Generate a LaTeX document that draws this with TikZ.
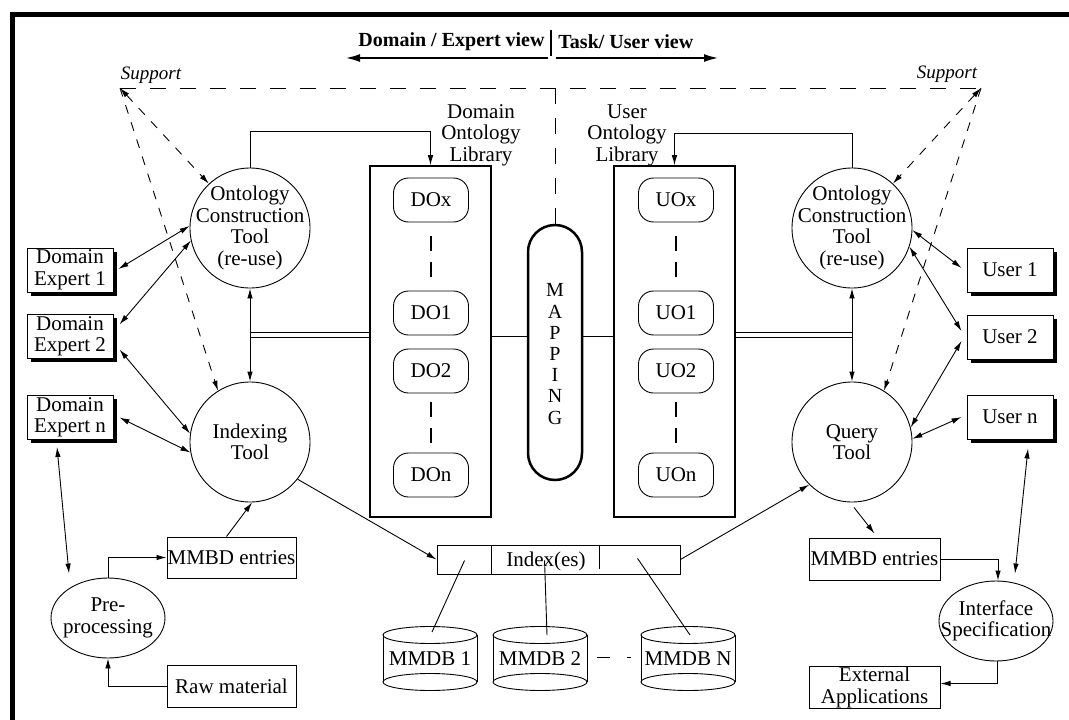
\documentclass[tikz,border=0pt]{standalone}
\usepackage{fontspec}
\setmainfont{Liberation Serif}
\usetikzlibrary{arrows.meta,calc,shapes.geometric}
\begin{document}
\begin{tikzpicture}[x=1pt,y=-1pt,
  >={Latex[length=10pt,width=5.5pt]},
  every node/.style={font=\fontsize{21}{21.5}\selectfont, inner sep=0pt, align=center},
  every path/.style={line width=0.9pt},
  box/.style={draw, fill=white, line width=1pt, minimum width=86pt, minimum height=44pt},
  shbox/.style={box, preaction={fill=black, transform canvas={xshift=3.5pt, yshift=-3.5pt}}},
  tool/.style={circle, draw, line width=0.9pt, minimum size=120pt},
  oval/.style={ellipse, draw, line width=0.9pt, minimum width=114pt, minimum height=80pt},
  onto/.style={draw, rounded corners=15pt, line width=0.9pt, minimum width=75pt, minimum height=44pt},
  lib/.style={draw, line width=1.6pt, minimum width=121pt, minimum height=351pt},
  dsh/.style={line width=0.9pt, dash pattern=on 9pt off 9pt},
  tdash/.style={line width=0.9pt, dash pattern=on 16pt off 14pt},
  odash/.style={line width=1.8pt, dash pattern=on 15pt off 11pt},
  harr/.style={line width=1.5pt, -{Latex[length=14pt,width=8pt]}}
]
\useasboundingbox (0,0) rectangle (1069,720);

% outer frame (top and left edges)
\draw[line width=5pt] (12.5,725) -- (12.5,14.5) -- (1075,14.5);

% headings
\node[font=\bfseries\fontsize{20}{22}\selectfont, anchor=east] (hdL) at (545,42) {Domain / Expert view};
\node[font=\bfseries\fontsize{20}{22}\selectfont, anchor=west] (hdR) at (558,42) {Task/ User view};
\coordinate (barT) at (551,30);
\coordinate (barB) at (551,56);
\draw[line width=1.8pt] (barT) -- (barB);
\coordinate (alS) at (548,58);
\coordinate (alE) at (346,58);
\coordinate (arS) at (556,58);
\coordinate (arE) at (718,58);
\draw[harr] (alS) -- (alE);
\draw[harr] (arS) -- (arE);

% support line
\coordinate (supL) at (120,88);
\coordinate (supR) at (981,88);
\node[font=\itshape\fontsize{19}{20}\selectfont] (supLt) at (151,75) {Support};
\node[font=\itshape\fontsize{19}{20}\selectfont] (supRt) at (947,74) {Support};
\draw[tdash] (supL) -- (supR);

% ontology libraries
\node[lib] (dlib) at (430.5,341.5) {};
\node[lib] (ulib) at (674.5,341.5) {};
\node (dlT) at (481,135) {Domain\\Ontology\\Library};
\node (ulT) at (627,135) {User\\Ontology\\Library};
\foreach \y/\s in {200/x,313/1,371/2,475/n}{
  \node[onto] (do\s) at (431,\y) {DO\s};
  \node[onto] (uo\s) at (676,\y) {UO\s};
}
\draw[odash, shorten <=14pt, shorten >=12pt] (dox) -- (do1);
\draw[odash, shorten <=9pt, shorten >=7pt] (do2) -- (don);
\draw[odash, shorten <=14pt, shorten >=12pt] (uox) -- (uo1);
\draw[odash, shorten <=9pt, shorten >=7pt] (uo2) -- (uon);

% mapping capsule
\node[draw, rounded corners=27pt, line width=2.5pt, minimum width=54pt, minimum height=255pt] (map) at (555,352.5) {};
\node[font=\fontsize{20}{21.2}\selectfont] (mapT) at (555,354) {M\\A\\P\\P\\I\\N\\G};
\coordinate (mapy) at (0,336.5);
\draw (dlib.east |- mapy) -- (map.west |- mapy);
\draw (map.east |- mapy) -- (ulib.west |- mapy);
\draw[tdash] (map.north) -- (map.north |- supL);

% tools
\node[tool, label={center:{Ontology\\Construction\\Tool\\(re-use)}}] (octL) at (250,228) {};
\node[tool, label={center:{Indexing\\Tool}}] (itL) at (250,442) {};
\node[tool, label={center:{Ontology\\Construction\\Tool\\(re-use)}}] (octR) at (852,228) {};
\node[tool, label={center:{Query\\Tool}}] (qt) at (852,442) {};
\node[oval, label={center:{Pre-\\processing}}] (pre) at (108,618) {};
\node[oval, label={center:{Interface\\Specification}}] (iface) at (996,621) {};

% experts and users
\node[shbox] (de1) at (70,270) {Domain\\Expert 1};
\node[shbox] (de2) at (70,336.5) {Domain\\Expert 2};
\node[shbox] (den) at (70,417.5) {Domain\\Expert n};
\node[shbox] (u1) at (1010,270) {User 1};
\node[shbox] (u2) at (1010,337) {User 2};
\node[shbox] (un) at (1010,417) {User n};

% entries and material
\node[box, minimum width=129pt, minimum height=41pt] (mmbdL) at (231.5,557.5) {MMBD entries};
\node[box, minimum width=129pt, minimum height=42pt] (raw) at (231.5,686) {Raw material};
\node[box, minimum width=131pt, minimum height=42pt] (mmbdR) at (874.5,559) {MMBD entries};
\node[box, minimum width=131pt, minimum height=42pt] (ext) at (874.5,687.5) {External\\Applications};

% index and databases
\node[draw, minimum width=243pt, minimum height=29pt] (idx) at (558.5,559.5) {};
\node (idxT) at (546,561) {Index(es)};
\draw ($(idx.north west)+(55,0)$) -- ($(idx.south west)+(55,0)$);
\draw ($(idx.north west)+(163,0)$) -- ($(idx.south west)+(163,-5)$);
\foreach \cx/\nm/\lab in {430/db1/MMDB 1,540/db2/MMDB 2,688/dbn/MMDB N}{
  \draw (\cx-47,635) -- (\cx-47,682) (\cx+47,635) -- (\cx+47,682);
  \draw (\cx,635) ellipse [x radius=47, y radius=8.5];
  \draw (\cx,682) ellipse [x radius=47, y radius=8.5];
  \coordinate (\nm top) at (\cx,635);
  \node (\nm) at (\cx,659) {\lab};
}
\draw ($(idx.south west)+(28,-14)$) -- ($(db1top)+(2,-3)$);
\draw ($(idx.south west)+(108,-14)$) -- ($(db2top)+(7,0)$);
\draw ($(idx.south west)+(201,-16)$) -- ($(dbntop)+(2,0)$);
\draw[dash pattern=on 13pt off 17pt] ($(db2top)+(57,22)$) -- ($(dbntop)+(-57,22)$);

% tool to library links (double rails)
\coordinate (jL) at (250,334.5);
\coordinate (jR) at (852,334.5);
\draw ($(jL)+(0,-2.5)$) -- ($(jL -| dlib.west)+(0,-2.5)$);
\draw ($(jL)+(0,2.5)$) -- ($(jL -| dlib.west)+(0,2.5)$);
\draw ($(jR)+(0,-2.5)$) -- ($(jR -| ulib.east)+(0,-2.5)$);
\draw ($(jR)+(0,2.5)$) -- ($(jR -| ulib.east)+(0,2.5)$);
\draw[->] (jL) -- (octL.south);
\draw[->] (jL) -- (itL.north);
\draw[->] (jR) -- (octR.south);
\draw[->] (jR) -- (qt.north);
\draw[->] (octL.north) -- ++(0,-36) -| (dlib.north);
\draw[->] (octR.north) -- ++(0,-34) -| (ulib.north);

% support arrows
\draw[dsh,<->] (supL) -- (octL);
\draw[dsh,->] (supL) -- (itL.122);
\draw[dsh,<->] (supR) -- (octR);
\draw[dsh,->] (supR) -- (qt.58);

% expert side
\draw[<->] ($(de1.east)+(5,-1)$) -- (octL.178);
\draw[<->] ($(de2.east)+(6,-12)$) -- (octL.192);
\draw[<->] ($(de2.east)+(6,13)$) -- (itL.172);
\draw[<->] ($(den.east)+(6,0)$) -- (itL.190);
\draw[<->] ($(den.south)+(-13,7)$) -- ($(pre.north)+(-39,-4)$);
\draw[->] (pre.north) |- (mmbdL.west);
\draw[->] (raw.west) -| (pre.south);
\draw[->] ($(mmbdL.north)+(-5,0)$) -- (itL.-88);
\draw[->] (itL.-38) -- (idx.west);

% user side
\draw[->] (idx.east) -- (qt.225);
\draw[->] ($(qt.south)+(2,5)$) -- ($(mmbdR.north)+(0,-4)$);
\draw[->] (mmbdR.east) -| ($(iface.north)+(2,0)$);
\draw[->] ($(iface.south)+(1,0)$) |- ($(ext.east)+(0,-4)$);
\draw[<->] ($(un.west)+(-5,0)$) -- (qt.3);
\draw[<->] ($(un.south)+(18,9)$) -- ($(iface.north)+(19,-7)$);
\draw[<->] (octR.-2) -- ($(u1.west)+(-5,-2)$);
\draw[<->] (octR.-18) -- ($(u2.west)+(-5,-6)$);
\draw[<->] ($(u2.west)+(-5,4)$) -- (qt.14);
\end{tikzpicture}
\end{document}
